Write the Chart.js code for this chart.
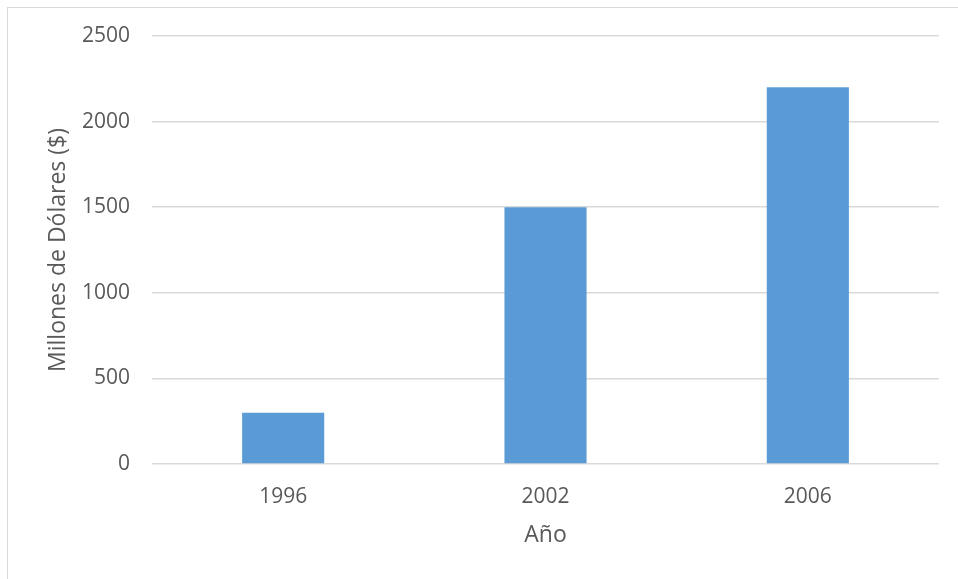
<!DOCTYPE html>
<html lang="es">
<head>
<meta charset="utf-8">
<title>Millones de Dólares por año</title>
<script src="https://cdn.jsdelivr.net/npm/chart.js@4.4.1/dist/chart.umd.min.js"></script>
<style>
    html, body { margin: 0; padding: 0; background: #fff; overflow: hidden; }
    #wrap { position: relative; width: 958px; height: 579px; }
    #frame {
        position: absolute; left: 7px; top: 7px;
        width: 1000px; height: 1000px;
        border: 1px solid #d9d9d9;
    }
    canvas { position: absolute; left: 0; top: 0; }
</style>
</head>
<body>
<div id="wrap">
    <div id="frame"></div>
    <canvas id="grafico" width="958" height="579"></canvas>
</div>
<script>
// Datos del gráfico
const anios = ['1996', '2002', '2006'];
const millones = [300, 1500, 2200];
const yMin = 0;
const yMax = 2500;
const yPaso = 500;

const textoGris = '#595959';
const lineaGris = '#d9d9d9';
const fuente = "'Open Sans', sans-serif";

document.addEventListener('DOMContentLoaded', () => {
    const ctx = document.getElementById('grafico').getContext('2d');

    new Chart(ctx, {
        type: 'bar',
        data: {
            labels: anios,
            datasets: [{
                label: 'Millones de Dólares ($)',
                data: millones,
                backgroundColor: '#5b9bd5',
                borderWidth: 0,
                categoryPercentage: 1,
                barPercentage: 0.313
            }]
        },
        options: {
            responsive: false,
            animation: false,
            layout: { padding: { left: 0, right: 19, top: 36, bottom: 0 } },
            plugins: {
                legend: { display: false },
                tooltip: { enabled: false }
            },
            scales: {
                x: {
                    grid: { display: false, drawTicks: false },
                    border: { display: false },
                    ticks: {
                        color: textoGris,
                        padding: 20,
                        font: { family: fuente, size: 21 }
                    },
                    title: {
                        display: true,
                        text: 'Año',
                        color: textoGris,
                        padding: { top: 0, bottom: 30 },
                        font: { family: fuente, size: 23 }
                    },
                    afterFit: (scale) => { scale.height = 115; }
                },
                y: {
                    min: yMin,
                    max: yMax,
                    grid: { color: lineaGris, lineWidth: 1.5, drawTicks: false },
                    border: { display: false },
                    ticks: {
                        stepSize: yPaso,
                        color: textoGris,
                        padding: 22,
                        font: { family: fuente, size: 21 },
                        // sin separador de miles
                        callback: (v) => String(v)
                    },
                    title: {
                        display: true,
                        text: 'Millones de Dólares ($)',
                        color: textoGris,
                        padding: { top: 45, bottom: 0 },
                        font: { family: fuente, size: 23 }
                    },
                    afterFit: (scale) => { scale.width = 152; }
                }
            }
        }
    });
});
</script>
</body>
</html>
